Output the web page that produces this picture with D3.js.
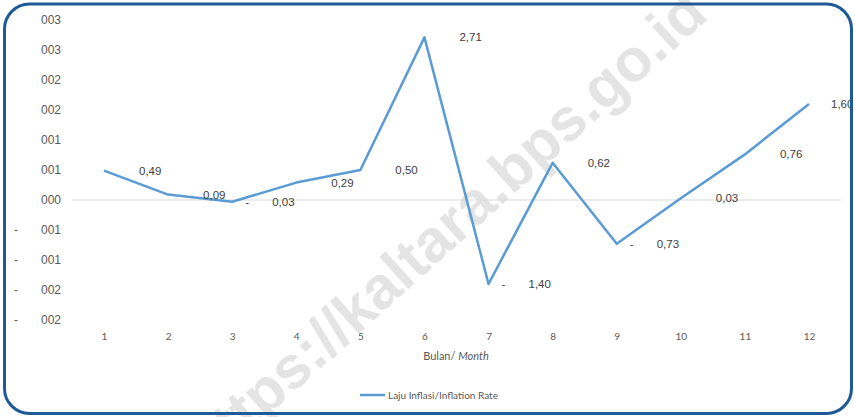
<!DOCTYPE html>
<html>
<head>
<meta charset="utf-8">
<script src="https://cdn.jsdelivr.net/npm/d3@7"></script>
<style>
  body { margin: 0; background: #fff; }
  svg { display: block; }
</style>
</head>
<body>
<svg id="chart"></svg>
<script>
// chart data
let months = [1, 2, 3, 4, 5, 6, 7, 8, 9, 10, 11, 12]
let inflation = [0.49, 0.09, -0.03, 0.29, 0.50, 2.71, -1.40, 0.62, -0.73, 0.03, 0.76, 1.60]
let yTicks = [3, 2.5, 2, 1.5, 1, 0.5, 0, -0.5, -1, -1.5, -2]
let yTickLabels = ['003', '003', '002', '002', '001', '001', '000', '001', '001', '002', '002']
let seriesName = 'Laju Inflasi/Inflation Rate'

let width = 854
let height = 417

let svg = d3.select('#chart')
    .attr('width', width)
    .attr('height', height)

// comma decimal like the source
let idLocale = d3.formatLocale({decimal: ',', thousands: '.', grouping: [3], currency: ['', '']})
let fmt = idLocale.format('.2f')

// scales
let xScale = d3.scalePoint()
    .domain(months)
    .range([104, 809])

let yScale = d3.scaleLinear()
    .domain([-2, 3])
    .range([320, 20])

// watermark (cut by the edges, as in the source image)
svg.append('text')
    .attr('transform', 'translate(448,232) rotate(-42)')
    .attr('text-anchor', 'middle')
    .attr('dominant-baseline', 'middle')
    .style('font-family', 'Liberation Sans, Arial, sans-serif')
    .style('font-weight', 'bold')
    .style('font-size', '60px')
    .style('fill', '#e4e4e4')
    .text('https://kaltara.bps.go.id')

// zero line
svg.append('line')
    .attr('x1', 72)
    .attr('x2', 841)
    .attr('y1', yScale(0))
    .attr('y2', yScale(0))
    .attr('stroke', '#d9d9d9')
    .attr('stroke-width', 1)

// y axis
let yAxis = d3.axisLeft(yScale)
    .tickValues(yTicks)
    .tickSize(0)
    .tickPadding(0)
    .tickFormat((d, i) => yTickLabels[i])

let yG = svg.append('g')
    .attr('transform', 'translate(61,0)')
    .call(yAxis)
yG.select('.domain').remove()
yG.selectAll('text')
    .style('font-family', 'Liberation Sans, Arial, sans-serif')
    .style('font-size', '12px')
    .style('fill', '#595959')

// dashes for the negative ticks
svg.selectAll('.neg-dash')
    .data(yTicks.filter(d => d < 0))
    .enter()
    .append('text')
    .attr('class', 'neg-dash')
    .attr('x', 16)
    .attr('y', d => yScale(d))
    .attr('dy', '0.32em')
    .attr('text-anchor', 'middle')
    .style('font-family', 'Liberation Sans, Arial, sans-serif')
    .style('font-size', '12px')
    .style('fill', '#595959')
    .text('-')

// x axis
let xAxis = d3.axisBottom(xScale)
    .tickSize(0)
    .tickPadding(0)

let xG = svg.append('g')
    .attr('transform', 'translate(0,333)')
    .call(xAxis)
xG.select('.domain').remove()
xG.selectAll('text')
    .style('font-family', 'Lato, sans-serif')
    .style('font-size', '10px')
    .style('fill', '#595959')

// axis title
let title = svg.append('text')
    .attr('x', 456)
    .attr('y', 360)
    .attr('text-anchor', 'middle')
    .style('font-family', 'Lato, sans-serif')
    .style('font-size', '11px')
    .style('fill', '#595959')
title.append('tspan').text('Bulan/ ')
title.append('tspan').style('font-style', 'italic').text('Month')

// line
let line = d3.line()
    .x((d, i) => xScale(months[i]))
    .y(d => yScale(d))

svg.append('path')
    .datum(inflation)
    .attr('d', line)
    .attr('fill', 'none')
    .attr('stroke', '#5b9bd5')
    .attr('stroke-width', 2.5)
    .attr('stroke-linejoin', 'round')

// data labels
let labels = svg.selectAll('.lbl')
    .data(inflation)
    .enter()
    .append('g')
    .attr('class', 'lbl')
    .style('font-family', 'Liberation Sans, Arial, sans-serif')
    .style('font-size', '11.5px')
    .style('fill', '#404040')

labels.append('text')
    .attr('x', (d, i) => Math.min(xScale(months[i]) + (d < 0 ? 40 : 35), width - 23))
    .attr('y', d => yScale(d))
    .attr('dy', '0.35em')
    .text(d => fmt(Math.abs(d)))

labels.filter(d => d < 0)
    .append('text')
    .attr('x', (d, i) => xScale(months[inflation.indexOf(d)]) + 13)
    .attr('y', d => yScale(d))
    .attr('dy', '0.35em')
    .text('-')

// legend
svg.append('line')
    .attr('x1', 360)
    .attr('x2', 385)
    .attr('y1', 395)
    .attr('y2', 395)
    .attr('stroke', '#5b9bd5')
    .attr('stroke-width', 2.5)

svg.append('text')
    .attr('x', 388)
    .attr('y', 395)
    .attr('dy', '0.35em')
    .style('font-family', 'Lato, sans-serif')
    .style('font-size', '10px')
    .style('fill', '#595959')
    .text(seriesName)

// outer border
svg.append('rect')
    .attr('x', 4.5)
    .attr('y', 4)
    .attr('width', 847)
    .attr('height', 409.5)
    .attr('rx', 25)
    .attr('fill', 'none')
    .attr('stroke', '#1f5a96')
    .attr('stroke-width', 3)
</script>
</body>
</html>
